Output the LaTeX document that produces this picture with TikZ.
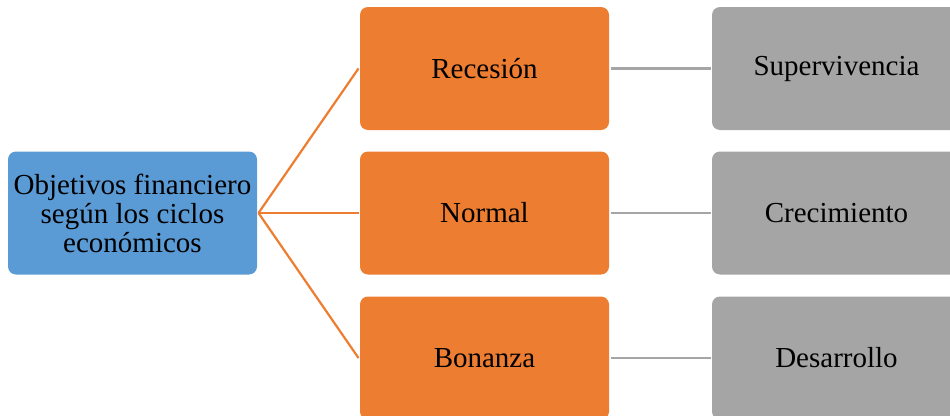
\documentclass[tikz,border=0pt]{standalone}
\usepackage{fontspec}
\setmainfont{Liberation Serif}
\begin{document}
\begin{tikzpicture}[x=1pt,y=-1pt,
  box/.style={rectangle, rounded corners=8pt, minimum width=249pt, minimum height=123pt,
    inner sep=2pt, outer sep=1.5pt, align=center, text=black,
    font=\fontsize{29}{29}\selectfont},
  rootbox/.style={box, fill=rootblue},
  cyclebox/.style={box, fill=cycleorange},
  goalbox/.style={box, fill=goalgray},
  branch/.style={draw=cycleorange, line width=2.2pt},
  link/.style={draw=goalgray, line width=2.2pt}]
\definecolor{rootblue}{HTML}{5B9BD5}
\definecolor{cycleorange}{HTML}{ED7D31}
\definecolor{goalgray}{HTML}{A5A5A5}
\useasboundingbox (0,0) rectangle (950,415);
\begin{scope}
\clip (0,0) rectangle (950,415);
\node[rootbox] (root) at (132.5,213) {Objetivos financiero\\según los ciclos\\económicos};
\node[cyclebox] (rec) at (484.5,68.5) {Recesión};
\node[cyclebox] (nor) at (484.5,213) {Normal};
\node[cyclebox] (bon) at (484.5,358) {Bonanza};
\node[goalbox] (sup) at (836.5,68.5) {Supervivencia};
\node[goalbox] (cre) at (836.5,213) {Crecimiento};
\node[goalbox] (des) at (836.5,358) {Desarrollo};
\draw[branch] (root.east) -- (rec.west);
\draw[branch] (root.east) -- (nor.west);
\draw[branch] (root.east) -- (bon.west);
\draw[link] (rec) -- (sup);
\draw[link] (nor) -- (cre);
\draw[link] (bon) -- (des);
\end{scope}
\end{tikzpicture}
\end{document}
